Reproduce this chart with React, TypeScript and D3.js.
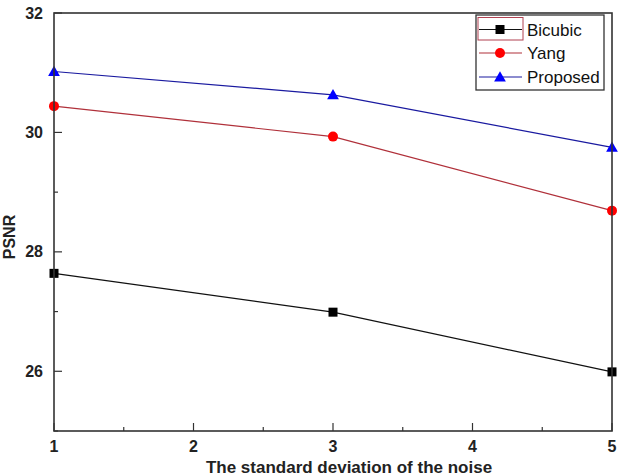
import React from "react";
import * as d3 from "d3";

const xValues = [1, 3, 5];
const bicubic = [27.64, 26.99, 25.99];
const yang = [30.44, 29.93, 28.69];
const proposed = [31.02, 30.63, 29.75];
const seriesNames = ["Bicubic", "Yang", "Proposed"];
const xTicks = [1, 2, 3, 4, 5];
const xMinor = [1.5, 2.5, 3.5, 4.5];
const yTicks = [26, 28, 30, 32];
const yMinor = [25, 27, 29, 31];

const W = 619, H = 476;
const L = 54, R = 612, T = 13, B = 431;
const FONT = "'Liberation Sans', Arial, sans-serif";

export default function App() {
  const x = d3.scaleLinear().domain([1, 5]).range([L, R]);
  const y = d3.scaleLinear().domain([25, 32]).range([B, T]);
  const line = d3.line<number>().x((_, i) => x(xValues[i])).y((d) => y(d));
  const series = [
    { name: seriesNames[0], data: bicubic, line: "#111", fill: "#000", marker: "square" },
    { name: seriesNames[1], data: yang, line: "#b0303a", fill: "#ff0000", marker: "circle" },
    { name: seriesNames[2], data: proposed, line: "#1a1aa0", fill: "#0000ff", marker: "triangle" },
  ];
  const marker = (m: string, cx: number, cy: number, fill: string, key: any) => {
    if (m === "square") return <rect key={key} x={cx - 4.5} y={cy - 4.5} width={9} height={9} fill={fill} />;
    if (m === "circle") return <circle key={key} cx={cx} cy={cy} r={5} fill={fill} />;
    const sym = d3.symbol(d3.symbolTriangle, 60)();
    return <path key={key} d={sym as string} transform={`translate(${cx},${cy + 1})`} fill={fill} />;
  };
  const legX = 476, legY = 15, legW = 128, legH = 75;
  const legRows = [29.5, 53, 77];
  return (
    <svg width={W} height={H} style={{ position: "absolute", left: 0, top: 0, background: "#fff" }}>
      <rect x={0} y={0} width={W} height={H} fill="#fff" />
      {xMinor.map((t) => (
        <line key={"xm" + t} x1={x(t)} x2={x(t)} y1={B} y2={B - 4} stroke="#333" strokeWidth={1.2} />
      ))}
      {xTicks.map((t) => (
        <g key={"x" + t}>
          <line x1={x(t)} x2={x(t)} y1={B} y2={B - 8} stroke="#333" strokeWidth={1.2} />
          <text x={x(t)} y={452} textAnchor="middle" fontFamily={FONT} fontWeight="bold" fontSize={16} fill="#222">{t}</text>
        </g>
      ))}
      {yMinor.map((t) => (
        <line key={"ym" + t} x1={L} x2={L + 4} y1={y(t)} y2={y(t)} stroke="#333" strokeWidth={1.2} />
      ))}
      {yTicks.map((t) => (
        <g key={"y" + t}>
          <line x1={L} x2={L + 8} y1={y(t)} y2={y(t)} stroke="#333" strokeWidth={1.2} />
          <text x={43} y={y(t) + 5.5} textAnchor="end" fontFamily={FONT} fontWeight="bold" fontSize={16} fill="#222">{t}</text>
        </g>
      ))}
      {series.map((s) => (
        <g key={s.name}>
          <path d={line(s.data) as string} fill="none" stroke={s.line} strokeWidth={1.2} />
          {s.data.map((d, i) => marker(s.marker, x(xValues[i]), y(d), s.fill, i))}
        </g>
      ))}
      <rect x={L} y={T} width={R - L} height={B - T} fill="none" stroke="#333" strokeWidth={1.6} />
      <rect x={legX} y={legY} width={legW} height={legH} fill="#fff" stroke="#333" strokeWidth={1.3} />
      <rect x={478} y={17.5} width={45} height={22.5} fill="none" stroke="#b04050" strokeWidth={1} />
      {series.map((s, i) => {
        const ly = legRows[i];
        return (
          <g key={"leg" + s.name}>
            <line x1={479} x2={522} y1={ly} y2={ly} stroke={s.line} strokeWidth={1.2} />
            {marker(s.marker, 500, ly, s.fill, "m")}
            <text x={527} y={ly + 6} fontFamily={FONT} fontSize={17} fill="#111">{s.name}</text>
          </g>
        );
      })}
      <text x={349} y={473} textAnchor="middle" fontFamily={FONT} fontWeight="bold" fontSize={17} fill="#222">The standard deviation of the noise</text>
      <text transform={`translate(15,237) rotate(-90)`} textAnchor="middle" fontFamily={FONT} fontWeight="bold" fontSize={16} fill="#222">PSNR</text>
    </svg>
  );
}
